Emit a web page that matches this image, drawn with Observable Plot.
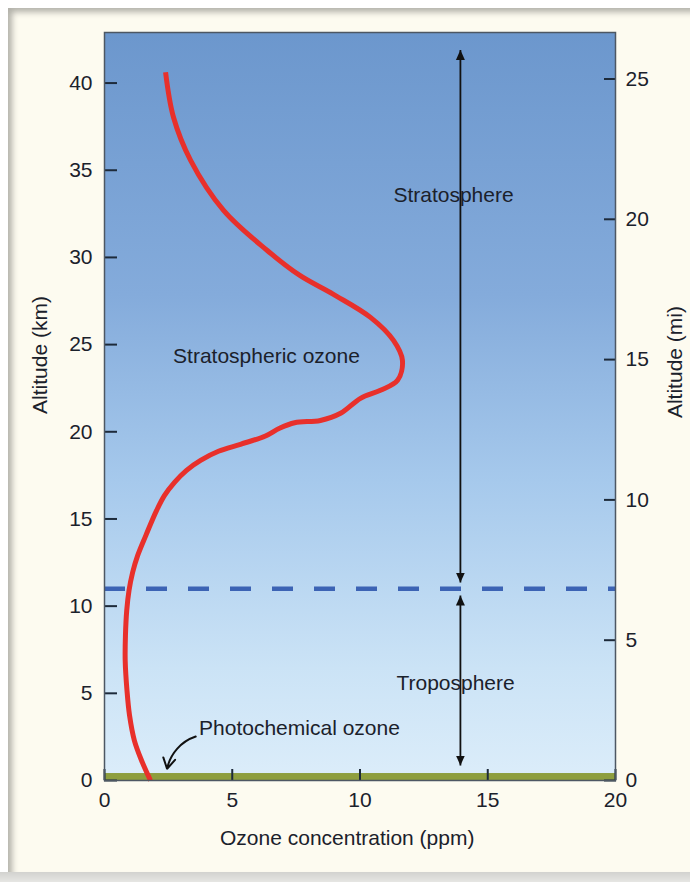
<!DOCTYPE html>
<html>
<head>
<meta charset="utf-8">
<script src="https://cdn.jsdelivr.net/npm/d3@7"></script>
<script src="https://cdn.jsdelivr.net/npm/@observablehq/plot@0.6"></script>
<style>
  html, body { margin: 0; padding: 0; background: #ffffff; width: 690px; height: 882px; overflow: hidden; }
  #page { position: absolute; left: 8px; top: 8px; width: 700px; height: 866px; background: #fdfbf0;
          box-shadow: inset 4px 4px 6px rgba(0,0,0,0.30); }
  #bottom { position: absolute; left: 0; top: 872px; width: 690px; height: 10px;
          background: linear-gradient(#d2d2cf, #e6e6e3); }
  #chart { position: absolute; left: 0; top: 0; }
  #chart svg { background: transparent; }
</style>
</head>
<body>
<div id="page"></div>
<div id="bottom"></div>
<div id="chart"></div>
<script>
// ---- data ----
const ozonePpm    = [2.39, 2.70, 3.37, 4.66, 6.36, 7.63, 8.96, 10.41, 11.31, 11.66, 11.47, 10.80, 10.02, 9.24, 8.45, 7.44, 6.85, 6.30, 5.32, 4.46, 3.76, 3.21, 2.74, 2.35, 2.04, 1.62, 1.30, 1.10, 0.96, 0.87, 0.82, 0.81, 0.88, 0.98, 1.17, 1.45, 1.80];
const altitudeKm  = [40.62, 38.04, 35.57, 32.70, 30.41, 28.98, 27.88, 26.56, 25.24, 24.10, 22.95, 22.38, 21.92, 21.06, 20.65, 20.52, 20.20, 19.76, 19.28, 18.88, 18.36, 17.79, 17.10, 16.35, 15.49, 14.06, 12.91, 11.93, 10.90, 9.75, 8.32, 6.88, 5.16, 3.73, 2.29, 1.15, 0];
const kmTicks  = [0, 5, 10, 15, 20, 25, 30, 35, 40];
const miTicks  = [0, 5, 10, 15, 20, 25];
const ppmTicks = [0, 5, 10, 15, 20];
const KM_PER_MI = 1.609344;
const tropopauseKm = [11];
const layerArrows = [ {x: 13.93, y1: 11.35, y2: 41.9}, {x: 13.93, y1: 10.61, y2: 0.86} ];
const layerLabels = [ {x: 13.66, y: 33.56, text: "Stratosphere"}, {x: 13.74, y: 5.57, text: "Troposphere"} ];
const ozoneLabels = [ {x: 6.34, y: 24.33, text: "Stratospheric ozone"}, {x: 7.63, y: 2.98, text: "Photochemical ozone"} ];
const photoArrow = [ {x1: 3.57, y1: 2.52, x2: 2.45, y2: 0.67} ];
const ground = [ {x1: 0, x2: 20, y1: 0, y2: 0.4} ];

const profile = ozonePpm.map((x, i) => ({x, y: altitudeKm[i]}));
const FONT = "'Liberation Sans', Arial, Helvetica, sans-serif";
const INK = "#1b212b";
const FS = 21;

const defs = () => {
  const d = d3.create("svg:defs");
  const g = d.append("linearGradient").attr("id", "sky").attr("x1", 0).attr("y1", 0).attr("x2", 0).attr("y2", 1);
  [["0%", "#6c97cd"], ["35%", "#84abdb"], ["60%", "#a6c9ec"], ["85%", "#cbe3f6"], ["100%", "#dcedfa"]]
    .forEach(([o, c]) => g.append("stop").attr("offset", o).attr("stop-color", c));
  d.append("marker").attr("id", "ah").attr("viewBox", "0 0 10 10").attr("refX", 10).attr("refY", 5)
    .attr("markerWidth", 10).attr("markerHeight", 10).attr("markerUnits", "userSpaceOnUse")
    .attr("orient", "auto-start-reverse")
    .append("path").attr("d", "M0,0.5 L10,5 L0,9.5 Z").attr("fill", "#111");
  return d.node();
};

const plot = Plot.plot({
  width: 690,
  height: 882,
  marginLeft: 104,
  marginRight: 75,
  marginTop: 32,
  marginBottom: 102,
  style: {fontFamily: FONT, fontSize: FS + "px", color: INK, background: "transparent"},
  x: {domain: [0, 20]},
  y: {domain: [0, 42.9]},
  marks: [
    defs,
    Plot.frame({fill: "url(#sky)"}),
    Plot.rect(ground, {x1: "x1", x2: "x2", y1: "y1", y2: "y2", fill: "#8e9e3e"}),
    Plot.ruleY(tropopauseKm, {stroke: "#3c63b4", strokeWidth: 4.5, strokeDasharray: "21,21"}),
    Plot.link(layerArrows, {x1: "x", x2: "x", y1: "y1", y2: "y2", stroke: "#111", strokeWidth: 1.8, className: "darrow"}),
    Plot.arrow(photoArrow, {x1: "x1", y1: "y1", x2: "x2", y2: "y2", bend: -30, stroke: "#111", strokeWidth: 2, headLength: 9}),
    Plot.line(profile, {x: "x", y: "y", curve: "catmull-rom", stroke: "#e8302b", strokeWidth: 5, strokeLinecap: "butt"}),
    Plot.text(layerLabels, {x: "x", y: "y", text: "text", fill: INK, fontSize: FS}),
    Plot.text(ozoneLabels, {x: "x", y: "y", text: "text", fill: INK, fontSize: FS}),
    Plot.axisY({anchor: "left", ticks: kmTicks, tickSize: -13, tickPadding: 25, strokeWidth: 2, label: null, fill: INK, stroke: "#1d2a3a", fontSize: FS}),
    Plot.axisY({anchor: "right", ticks: miTicks.map(m => m * KM_PER_MI), tickFormat: d => String(Math.round(d / KM_PER_MI)), tickSize: -12, tickPadding: 22, strokeWidth: 2, label: null, fill: INK, stroke: "#1d2a3a", fontSize: FS}),
    Plot.axisX({anchor: "bottom", ticks: ppmTicks, tickSize: -11, tickPadding: 23, strokeWidth: 2, label: null, fill: INK, stroke: "#1d2a3a", fontSize: FS}),
    Plot.text(["Altitude (km)"], {frameAnchor: "left", y: [24.4], dx: -64, rotate: -90, textAnchor: "middle", lineAnchor: "middle", fill: INK, fontSize: FS}),
    Plot.text(["Altitude (mi)"], {frameAnchor: "right", y: [24.0], dx: 60, rotate: -90, textAnchor: "middle", lineAnchor: "middle", fill: INK, fontSize: FS}),
    Plot.text(["Ozone concentration (ppm)"], {frameAnchor: "bottom", x: [9.5], dy: 58, lineAnchor: "middle", fill: INK, fontSize: FS}),
    Plot.frame({stroke: "#4d5763", strokeWidth: 1.5})
  ]
});

d3.select(plot).selectAll(".darrow path, .darrow line")
  .attr("marker-start", "url(#ah)").attr("marker-end", "url(#ah)");

document.getElementById("chart").appendChild(plot);
</script>
</body>
</html>
